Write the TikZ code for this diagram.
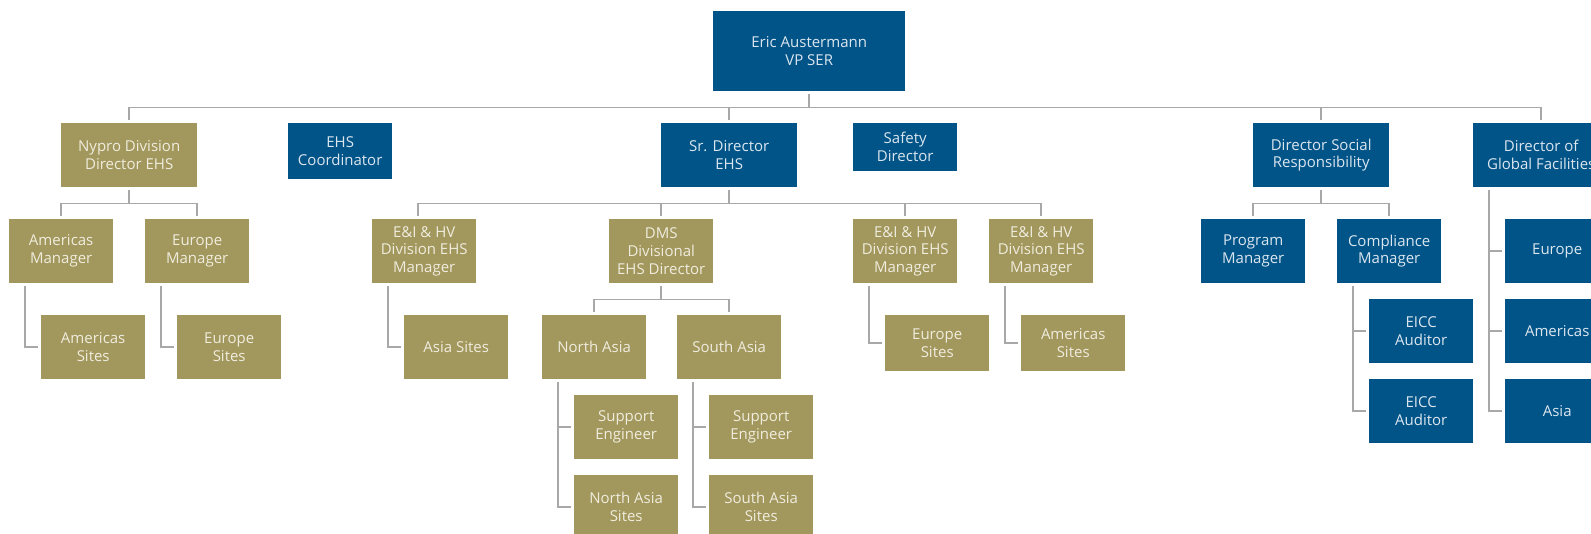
\documentclass[tikz,border=0pt]{standalone}
\usepackage{fontspec}
\setmainfont{Open Sans}
\definecolor{sblue}{HTML}{005488}
\definecolor{solive}{HTML}{A2975C}
\definecolor{sline}{HTML}{A8A8A8}
\definecolor{btext}{HTML}{DCE6EF}
\definecolor{otext}{HTML}{F0EDDF}
\tikzset{
  box/.style={anchor=north west, inner sep=0pt, minimum width=104pt, minimum height=64pt,
    align=center, font=\fontsize{15}{17.8}\selectfont},
  bluebox/.style={box, fill=sblue, text=btext},
  olivebox/.style={box, fill=solive, text=otext},
  conn/.style={draw=sline, line width=1.5pt},
}
\begin{document}
\begin{tikzpicture}[x=1pt,y=-1pt]
\useasboundingbox (0,0) rectangle (1591,534);
\clip (0,0) rectangle (1591,534);
% top
\node[bluebox, minimum width=192pt, minimum height=80pt] (eric) at (713,11) {Eric Austermann\\VP SER};
% level 1
\node[olivebox, minimum width=136pt] (nypro) at (61,123) {Nypro Division\\Director EHS};
\node[bluebox, minimum height=56pt] (ehsc) at (288,123) {EHS\\Coordinator};
\node[bluebox, minimum width=136pt] (srdir) at (661,123) {Sr. Director\\EHS};
\node[bluebox, minimum height=48pt] (safety) at (853,123) {Safety\\Director};
\node[bluebox, minimum width=136pt] (social) at (1253,123) {Director Social\\Responsibility};
\node[bluebox, minimum width=136pt] (global) at (1473,123) {Director of\\Global Facilities};
% level 2
\node[olivebox] (amm) at (9,219) {Americas\\Manager};
\node[olivebox] (eum) at (145,219) {Europe\\Manager};
\node[olivebox] (eia) at (372,219) {E\&I \& HV\\Division EHS\\Manager};
\node[olivebox] (dms) at (609,219) {DMS\\Divisional\\EHS Director};
\node[olivebox] (eib) at (853,219) {E\&I \& HV\\Division EHS\\Manager};
\node[olivebox] (eic) at (989,219) {E\&I \& HV\\Division EHS\\Manager};
\node[bluebox] (prog) at (1201,219) {Program\\Manager};
\node[bluebox] (comp) at (1337,219) {Compliance\\Manager};
\node[bluebox] (geu) at (1505,219) {Europe};
% level 3
\node[olivebox] (ams) at (41,315) {Americas\\Sites};
\node[olivebox] (eus) at (177,315) {Europe\\Sites};
\node[olivebox] (asias) at (404,315) {Asia Sites};
\node[olivebox] (nasia) at (542,315) {North Asia};
\node[olivebox] (sasia) at (677,315) {South Asia};
\node[olivebox, minimum height=56pt] (eusb) at (885,315) {Europe\\Sites};
\node[olivebox, minimum height=56pt] (amsb) at (1021,315) {Americas\\Sites};
\node[bluebox] (eicca) at (1369,299) {EICC\\Auditor};
\node[bluebox] (eiccb) at (1369,379) {EICC\\Auditor};
\node[bluebox] (gam) at (1505,299) {Americas};
\node[bluebox] (gas) at (1505,379) {Asia};
% level 4
\node[olivebox] (nse) at (574,395) {Support\\Engineer};
\node[olivebox] (nas) at (574,475) {North Asia\\Sites};
\node[olivebox] (sse) at (709,395) {Support\\Engineer};
\node[olivebox] (sas) at (709,475) {South Asia\\Sites};

% buses
\coordinate (b1) at (0,107.5);
\coordinate (b2) at (0,203.5);
\coordinate (b3) at (0,299.5);
\draw[conn] ([yshift=-3pt]eric.south) -- (eric.south |- b1);
\draw[conn] (nypro.north |- b1) -- (global.north |- b1);
\foreach \n in {nypro,srdir,social,global}
  \draw[conn] (\n.north |- b1) -- ([yshift=3pt]\n.north);
% nypro
\draw[conn] ([yshift=-3pt]nypro.south) -- (nypro.south |- b2);
\draw[conn] (amm.north |- b2) -- (eum.north |- b2);
\foreach \n in {amm,eum}
  \draw[conn] (\n.north |- b2) -- ([yshift=3pt]\n.north);
% sr director
\draw[conn] ([yshift=-3pt]srdir.south) -- (srdir.south |- b2);
\draw[conn] ([xshift=-6pt]eia.north |- b2) -- (eic.north |- b2);
\draw[conn] ([xshift=-6pt]eia.north |- b2) -- ([xshift=-6pt,yshift=3pt]eia.north);
\foreach \n in {dms,eib,eic}
  \draw[conn] (\n.north |- b2) -- ([yshift=3pt]\n.north);
% social
\draw[conn] ([yshift=-3pt]social.south) -- (social.south |- b2);
\draw[conn] (prog.north |- b2) -- (comp.north |- b2);
\foreach \n in {prog,comp}
  \draw[conn] (\n.north |- b2) -- ([yshift=3pt]\n.north);
% dms
\draw[conn] ([yshift=-3pt]dms.south) -- (dms.south |- b3);
\draw[conn] (nasia.north |- b3) -- (sasia.north |- b3);
\foreach \n in {nasia,sasia}
  \draw[conn] (\n.north |- b3) -- ([yshift=3pt]\n.north);
% side branches
\foreach \p/\c in {amm/ams,eum/eus,eia/asias,eib/eusb,eic/amsb,nasia/nse,nasia/nas,sasia/sse,sasia/sas,comp/eicca,comp/eiccb,global/geu,global/gam,global/gas}
  \draw[conn] ([xshift=16pt,yshift=-3pt]\p.south west) |- ([xshift=-3pt]\c.west);
\end{tikzpicture}
\end{document}
